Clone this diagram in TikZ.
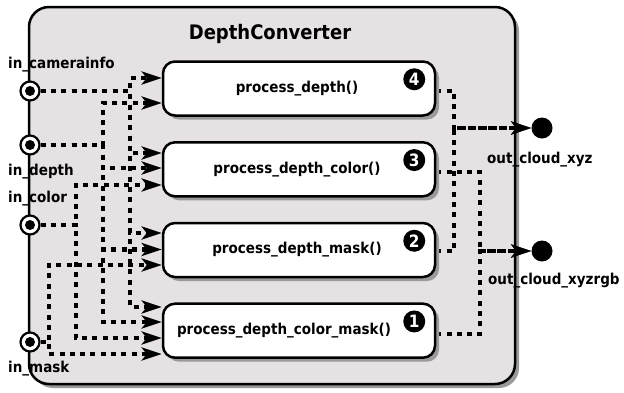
\documentclass[tikz,border=0pt]{standalone}
\usepackage{fontspec}
\setmainfont{DejaVu Sans}[FakeStretch=0.9]
\usetikzlibrary{arrows.meta,shadows}
\definecolor{panel}{HTML}{E6E2E4}
\definecolor{shade}{HTML}{9A9A9A}
\pgfdeclarelayer{back}
\pgfdeclarelayer{wires}
\pgfsetlayers{back,wires,main}
\begin{document}
\begin{tikzpicture}[x=1pt,y=1pt,
  txt/.style={font=\fontsize{15}{18}\selectfont\bfseries},
  container/.style={draw=black, line width=2.5pt, fill=panel, rounded corners=20pt,
    drop shadow={shadow xshift=4pt, shadow yshift=-4pt, fill=shade, opacity=1}},
  procbox/.style={draw=black, line width=2.5pt, fill=white, rounded corners=12pt,
    minimum width=272pt, minimum height=54pt, inner sep=0pt, txt,
    drop shadow={shadow xshift=4pt, shadow yshift=-4pt, fill=shade, opacity=1}},
  badge/.style={circle, fill=black, minimum size=22pt, inner sep=0pt, text=white,
    font=\fontsize{17}{20}\selectfont\bfseries},
  inport/.style={circle, draw=black, line width=2.2pt, fill=white, minimum size=19pt, inner sep=0pt,
    path picture={\fill[black] (path picture bounding box.center) circle (5pt);}},
  outport/.style={circle, fill=black, minimum size=21pt, inner sep=0pt},
  portlabel/.style={txt, anchor=base west, inner sep=0pt},
  flow/.style={line width=4.3pt, dash pattern=on 5pt off 5.3pt},
  arrowed/.style={-{Stealth[length=20pt,width=13pt,inset=5pt]}}
]
\useasboundingbox (0,0) rectangle (624,-392);

% component frame
\begin{pgfonlayer}{back}
  \node[container, minimum width=486pt, minimum height=377pt] (frame) at (272,-195.5) {};
\end{pgfonlayer}
\node[font=\fontsize{20}{24}\selectfont\bfseries, anchor=base] (title) at (270,-39) {DepthConverter};

% processing functions
\node[procbox] (pd)   at (299,-88.5)  {process\_depth()\kern4pt};
\node[procbox] (pdc)  at (299,-169.3) {process\_depth\_color()\kern4pt};
\node[procbox] (pdm)  at (299,-250)   {process\_depth\_mask()\kern4pt};
\node[procbox] (pdcm) at (299,-330.7) {process\_depth\_color\_mask()\kern30pt};

\node[badge] (n4) at ([xshift=-22pt,yshift=-19pt]pd.north east)   {4};
\node[badge] (n3) at ([xshift=-22pt,yshift=-19pt]pdc.north east)  {3};
\node[badge] (n2) at ([xshift=-22pt,yshift=-19pt]pdm.north east)  {2};
\node[badge] (n1) at ([xshift=-22pt,yshift=-19pt]pdcm.north east) {1};

% input ports
\node[inport] (incam)  at (30,-91)  {};
\node[inport] (indep)  at (30,-145) {};
\node[inport] (incol)  at (30,-225) {};
\node[inport] (inmask) at (30,-342) {};
\node[portlabel] (lcam)  at (8,-68)  {in\_camerainfo};
\node[portlabel] (ldep)  at (8,-175) {in\_depth};
\node[portlabel] (lcol)  at (8,-202) {in\_color};
\node[portlabel] (lmask) at (8,-372) {in\_mask};

% output ports
\node[outport] (outxyz) at (542,-128) {};
\node[outport] (outrgb) at (542,-251) {};
\node[portlabel] (lxyz) at (487,-163) {out\_cloud\_xyz};
\node[portlabel] (lrgb) at (488,-284) {out\_cloud\_xyzrgb};

% bus columns
\coordinate (bcam)  at (130,0);
\coordinate (bdep)  at (103,0);
\coordinate (bcol)  at (76,0);
\coordinate (bmask) at (49,0);
\coordinate (oxyz)  at (454,0);
\coordinate (orgb)  at (480,0);

\begin{pgfonlayer}{wires}
  % in_camerainfo
  \draw[flow,arrowed] (incam) -- (incam -| bcam) |- ([yshift=10.5pt]pd.west);
  \draw[flow,arrowed] (incam) -- (incam -| bcam) |- ([yshift=16.3pt]pdc.west);
  \draw[flow,arrowed] (incam) -- (incam -| bcam) |- ([yshift=17pt]pdm.west);
  \draw[flow,arrowed] (incam) -- (incam -| bcam) |- ([yshift=23.7pt]pdcm.west);
  % in_depth
  \draw[flow,arrowed] (indep) -- (indep -| bdep) |- ([yshift=-14.5pt]pd.west);
  \draw[flow,arrowed] (indep) -- (indep -| bdep) |- ([yshift=1.3pt]pdc.west);
  \draw[flow,arrowed] (indep) -- (indep -| bdep) |- ([yshift=0.5pt]pdm.west);
  \draw[flow,arrowed] (indep) -- (indep -| bdep) |- ([yshift=8.7pt]pdcm.west);
  % in_color
  \draw[flow,arrowed] (incol) -- (incol -| bcol) |- ([yshift=-15.7pt]pdc.west);
  \draw[flow,arrowed] (incol) -- (incol -| bcol) |- ([yshift=-7.3pt]pdcm.west);
  % in_mask
  \draw[flow,arrowed] (inmask) -- (inmask -| bmask) |- ([yshift=-15pt]pdm.west);
  \draw[flow,arrowed] (inmask) -- (inmask -| bmask) |- ([yshift=-23.3pt]pdcm.west);
  % outputs
  \draw[flow,arrowed] ([yshift=-2.5pt]pd.east) -- ([yshift=-2.5pt]pd.east -| oxyz) |- (outxyz);
  \draw[flow,arrowed] ([yshift=-1pt]pdm.east) -- ([yshift=-1pt]pdm.east -| oxyz) |- (outxyz);
  \draw[flow,arrowed] ([yshift=-2.7pt]pdc.east) -- ([yshift=-2.7pt]pdc.east -| orgb) |- (outrgb);
  \draw[flow,arrowed] ([yshift=-3.3pt]pdcm.east) -- ([yshift=-3.3pt]pdcm.east -| orgb) |- (outrgb);
\end{pgfonlayer}
\end{tikzpicture}
\end{document}
